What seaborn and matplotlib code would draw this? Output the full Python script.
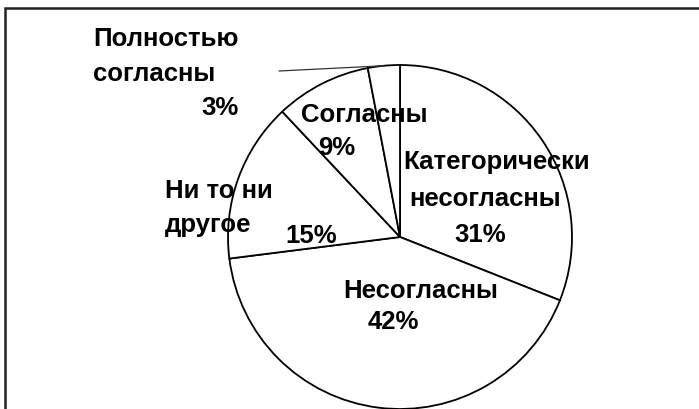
import matplotlib
matplotlib.use("Agg")
import matplotlib.pyplot as plt
import matplotlib.patches as mpatches
import seaborn as sns
import numpy as np

# Data (clockwise from 12 o'clock)
categories = ["Категорически несогласны", "Несогласны", "Ни то ни другое",
              "Согласны", "Полностью согласны"]
values = [31, 42, 15, 9, 3]
pct_labels = ["31%", "42%", "15%", "9%", "3%"]

sns.set_theme(style="white")
plt.rcParams['font.family'] = ['Liberation Sans', 'DejaVu Sans']

W, H = 699, 410
fig = plt.figure(figsize=(W / 100, H / 100), dpi=100)
fig.patch.set_facecolor("white")

cx, cy, r = 400, 238, 172
ax = fig.add_axes([(cx - r) / W, (H - cy - r) / H, 2 * r / W, 2 * r / H])
wedges, _ = ax.pie(values, startangle=90, counterclock=False,
                   colors=["white"] * len(values),
                   wedgeprops=dict(edgecolor="black", linewidth=1.3))
ax.set_xlim(-1, 1)
ax.set_ylim(-1, 1)
ax.set_aspect("equal")
ax.axis("off")
for w in wedges:
    w.set_clip_on(False)

# outer frame (cut at right/bottom as in the reference)
frame = mpatches.Rectangle((5 / W, -0.1), 1.2, 1 - 9 / H + 0.1,
                           transform=fig.transFigure, fill=False,
                           edgecolor="#222222", linewidth=1.8)
fig.patches.append(frame)


def txt(x, y, s, ha="left"):
    fig.text(x / W, 1 - y / H, s, ha=ha, va="baseline",
             fontsize=18.5, fontweight="bold", color="black")


# Категорически несогласны
txt(497, 169, "Категорически", "center")
txt(485, 206, "несогласны", "center")
txt(480, 242, pct_labels[0], "center")
# Несогласны
txt(421, 298, categories[1], "center")
txt(393, 329, pct_labels[1], "center")
# Ни то ни другое
txt(165, 198, "Ни то ни")
txt(165, 232, "другое")
txt(311, 243, pct_labels[2], "center")
# Согласны
txt(364, 122, categories[3], "center")
txt(337, 155, pct_labels[3], "center")
# Полностью согласны
txt(93, 46, "Полностью")
txt(93, 81, "согласны")
txt(239, 115, pct_labels[4], "right")

# leader line for the small slice
w = wedges[-1]
mid = np.deg2rad((w.theta1 + w.theta2) / 2)
ax.annotate("", xy=(np.cos(mid), np.sin(mid)),
            xytext=(279 / W, 1 - 72 / H), textcoords="figure fraction",
            arrowprops=dict(arrowstyle="-", color="#333333", lw=0.9,
                            shrinkA=0, shrinkB=0),
            annotation_clip=False)

fig.savefig("out.png", dpi=100, facecolor="white")
